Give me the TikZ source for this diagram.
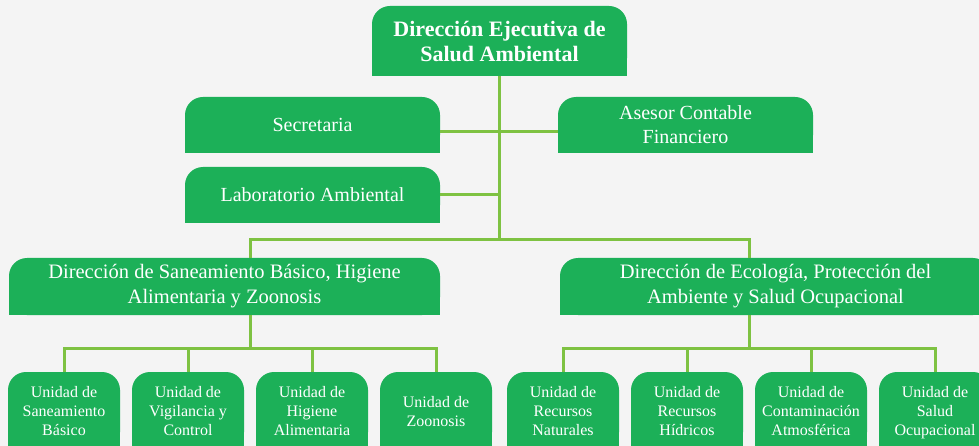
\documentclass[tikz,border=0pt]{standalone}
\usepackage{fontspec}
\setmainfont{Liberation Serif}
\usetikzlibrary{backgrounds}
\definecolor{boxgreen}{RGB}{28,176,88}
\definecolor{linegreen}{RGB}{126,194,66}
\definecolor{bggray}{RGB}{244,244,244}
\begin{document}
\begin{tikzpicture}[x=1pt, y=-1pt,
  box/.style={fill=boxgreen, text=white, rounded corners=18pt, align=center, inner sep=0pt},
  headbox/.style={box, minimum width=255pt, minimum height=70pt, font=\fontsize{22}{25}\selectfont\bfseries},
  staffbox/.style={box, minimum width=255pt, minimum height=56pt, font=\fontsize{20}{24}\selectfont},
  dirbox/.style={box, minimum width=431pt, minimum height=57pt, font=\fontsize{20.5}{25}\selectfont},
  unitbox/.style={box, minimum width=112pt, minimum height=78pt, text depth=0pt, font=\fontsize{16}{19}\selectfont},
  conn/.style={draw=linegreen, line width=3pt}]
\useasboundingbox (0,0) rectangle (979,446);
\node[headbox] (top) at (499.5,41) {Dirección Ejecutiva de\\Salud Ambiental};
\node[staffbox] (secr) at (312.5,125) {Secretaria};
\node[staffbox] (lab) at (312.5,195) {Laboratorio Ambiental};
\node[staffbox] (asesor) at (685.5,125) {Asesor Contable\\Financiero};
\node[dirbox] (ldir) at (224.5,286.5) {Dirección de Saneamiento Básico, Higiene\\Alimentaria y Zoonosis};
\node[dirbox] (rdir) at (775.5,286.5) {Dirección de Ecología, Protección del\\Ambiente y Salud Ocupacional};
\node[unitbox] (u1) at (64,411) {Unidad de\\Saneamiento\\Básico};
\node[unitbox] (u2) at (188,411) {Unidad de\\Vigilancia y\\Control};
\node[unitbox] (u3) at (312,411) {Unidad de\\Higiene\\Alimentaria};
\node[unitbox] (u4) at (436,411) {Unidad de\\Zoonosis};
\node[unitbox] (u5) at (563,411) {Unidad de\\Recursos\\Naturales};
\node[unitbox] (u6) at (687,411) {Unidad de\\Recursos\\Hídricos};
\node[unitbox] (u7) at (811,411) {Unidad de\\Contaminación\\Atmosférica};
\node[unitbox] (u8) at (935,411) {Unidad de\\Salud\\Ocupacional};
\coordinate (hub) at (499.5,240);
\coordinate (lmid) at (250,348);
\coordinate (rmid) at (749,348);
\draw[conn] (top.south) -- (hub);
\draw[conn] ([yshift=-7pt]secr.east) -- ([yshift=-7pt]asesor.west);
\draw[conn] (lab.east) -- (lab.east -| hub);
\draw[conn] (lmid |- ldir.north) |- (hub) -| (rmid |- rdir.north);
\draw[conn] (lmid |- ldir.south) -- (lmid);
\draw[conn] (rmid |- rdir.south) -- (rmid);
\draw[conn] (u1.north) |- (lmid) -| (u4.north);
\draw[conn] (u5.north) |- (rmid) -| (u8.north);
\foreach \u in {u2,u3} \draw[conn] (\u.north) -- (\u.north |- lmid);
\foreach \u in {u6,u7} \draw[conn] (\u.north) -- (\u.north |- rmid);
\begin{scope}[on background layer]
\fill[bggray] (0,0) rectangle (979,446);
\foreach \n in {top,secr,lab,asesor,ldir,rdir,u1,u2,u3,u4,u5,u6,u7,u8}
  \fill[boxgreen] (\n.south west) rectangle (\n.east);
\end{scope}
\end{tikzpicture}
\end{document}
